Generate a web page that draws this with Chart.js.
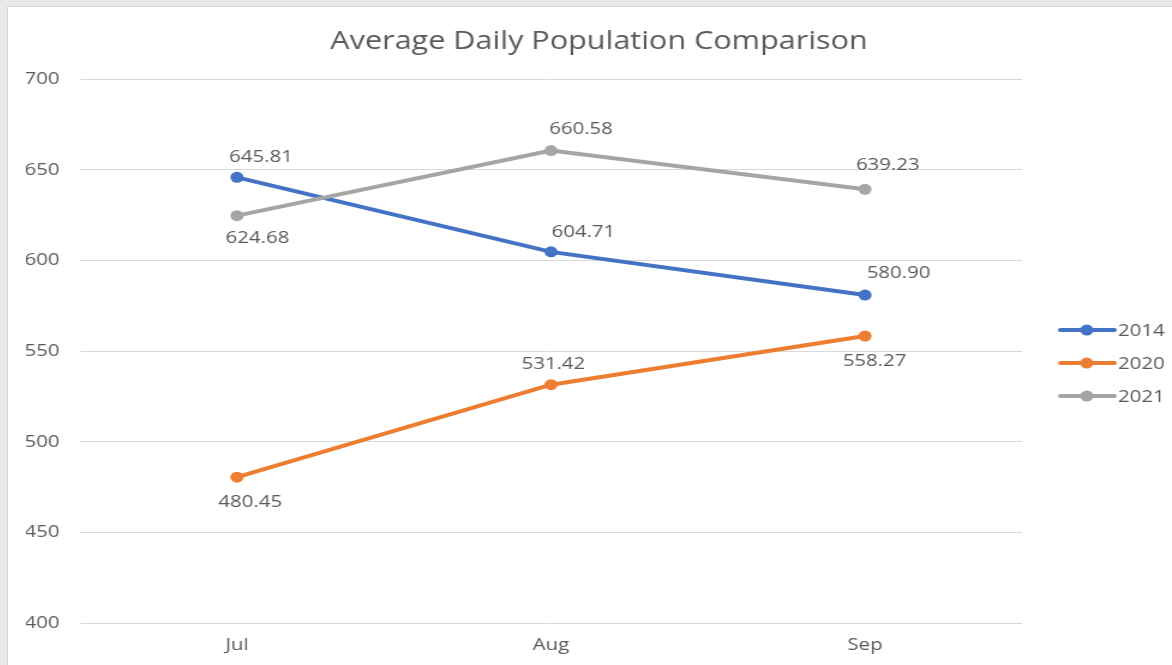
<!DOCTYPE html>
<html>
<head>
<meta charset="utf-8">
<script src="https://cdn.jsdelivr.net/npm/chart.js@4/dist/chart.umd.min.js"></script>
<style>
    html, body { margin: 0; padding: 0; overflow: hidden; }
    body { background: #e9e9e9; width: 1172px; height: 665px; position: relative; }
    #frame {
        position: absolute; left: 7px; top: 6px; width: 1170px; height: 665px;
        background: #ffffff; border-left: 1px solid #d8d8d8; border-top: 1px solid #d8d8d8;
    }
    /* the picture is a bit wider than tall, so the whole chart is stretched sideways */
    #wrap {
        position: absolute; left: 8px; top: 7px; width: 970px; height: 658px;
        transform: scaleX(1.2); transform-origin: 0 0;
    }
</style>
</head>
<body>
<div id="frame"></div>
<div id="wrap"><canvas id="myChart" width="970" height="658"></canvas></div>
<script>
// data
var months = ['Jul', 'Aug', 'Sep'];
var series2014 = [645.81, 604.71, 580.90];
var series2020 = [480.45, 531.42, 558.27];
var series2021 = [624.68, 660.58, 639.23];

var yMin = 400;
var yMax = 700;
var yStep = 50;

// where each value label sits next to its point (dx, dy)
var labelOffsets = [
    [[20, -20], [27, -20], [28, -22]],   // 2014
    [[11, 25], [2, -21], [8, 25]],       // 2020
    [[17, 23], [25, -21], [19, -24]]     // 2021
];

var textColor = '#595959';
var fontFamily = "'Open Sans', sans-serif";

Chart.defaults.font.family = fontFamily;
Chart.defaults.color = textColor;

/* value labels */
var valueLabels = {
    id: 'valueLabels',
    afterDatasetsDraw: function (chart) {
        var ctx = chart.ctx;
        ctx.save();
        ctx.font = '17px ' + fontFamily;
        ctx.fillStyle = textColor;
        ctx.textAlign = 'center';
        ctx.textBaseline = 'middle';
        chart.data.datasets.forEach(function (ds, i) {
            var meta = chart.getDatasetMeta(i);
            meta.data.forEach(function (pt, j) {
                var off = labelOffsets[i][j];
                ctx.fillText(ds.data[j].toFixed(2), pt.x + off[0], pt.y + off[1]);
            });
        });
        ctx.restore();
    }
};

/* legend with line + marker, like the spreadsheet one */
var lineLegend = {
    id: 'lineLegend',
    afterDraw: function (chart) {
        var ctx = chart.ctx;
        var area = chart.chartArea;
        var mid = (area.top + area.bottom) / 2;
        ctx.save();
        ctx.font = '17px ' + fontFamily;
        ctx.textBaseline = 'middle';
        ctx.textAlign = 'left';
        chart.data.datasets.forEach(function (ds, i) {
            var y = mid - 21 + i * 33;
            var x0 = area.right + 32;
            ctx.strokeStyle = ds.borderColor;
            ctx.lineWidth = 4;
            ctx.lineCap = 'round';
            ctx.beginPath();
            ctx.moveTo(x0, y);
            ctx.lineTo(x0 + 45, y);
            ctx.stroke();
            ctx.fillStyle = ds.borderColor;
            ctx.beginPath();
            ctx.arc(x0 + 22, y, 5.5, 0, Math.PI * 2);
            ctx.fill();
            ctx.fillStyle = textColor;
            ctx.fillText(ds.label, x0 + 48, y + 1);
        });
        ctx.restore();
    }
};

function makeSet(label, data, color, order) {
    return {
        label: label,
        data: data,
        borderColor: color,
        backgroundColor: color,
        borderWidth: 4,
        pointRadius: 5.5,
        pointHoverRadius: 5.5,
        pointBorderWidth: 0,
        fill: false,
        tension: 0,
        order: order
    };
}

var ctx = document.getElementById('myChart').getContext('2d');

var chart = new Chart(ctx, {
    type: 'line',
    data: {
        labels: months,
        datasets: [
            makeSet('2014', series2014, '#4472C4', 2),
            makeSet('2020', series2020, '#ED7D31', 1),
            makeSet('2021', series2021, '#A5A5A5', 0)
        ]
    },
    options: {
        responsive: false,
        animation: false,
        layout: { padding: { left: 15, right: 0, top: 0, bottom: 0 } },
        plugins: {
            legend: { display: false },
            tooltip: { enabled: false },
            title: {
                display: true,
                text: 'Average Daily Population Comparison',
                color: textColor,
                font: { size: 25.5, weight: 'normal' },
                padding: { top: 19.5, bottom: 22 }
            }
        },
        scales: {
            x: {
                offset: true,
                grid: { display: false, drawTicks: false },
                border: { display: false },
                ticks: { font: { size: 17 }, color: textColor, padding: 12 },
                afterFit: function (scale) { scale.height = 42; }
            },
            y: {
                min: yMin,
                max: yMax,
                grid: { color: '#d9d9d9', lineWidth: 1, drawTicks: false },
                border: { display: false },
                ticks: { stepSize: yStep, font: { size: 17 }, color: textColor, padding: 17 },
                afterFit: function (scale) { scale.width = 45; }
            },
            // empty strip on the right that leaves room for the legend
            legendSpace: {
                type: 'linear',
                position: 'right',
                display: true,
                grid: { display: false, drawTicks: false },
                border: { display: false },
                ticks: { display: false },
                afterFit: function (scale) { scale.width = 125; }
            }
        }
    },
    plugins: [valueLabels, lineLegend]
});
</script>
</body>
</html>
